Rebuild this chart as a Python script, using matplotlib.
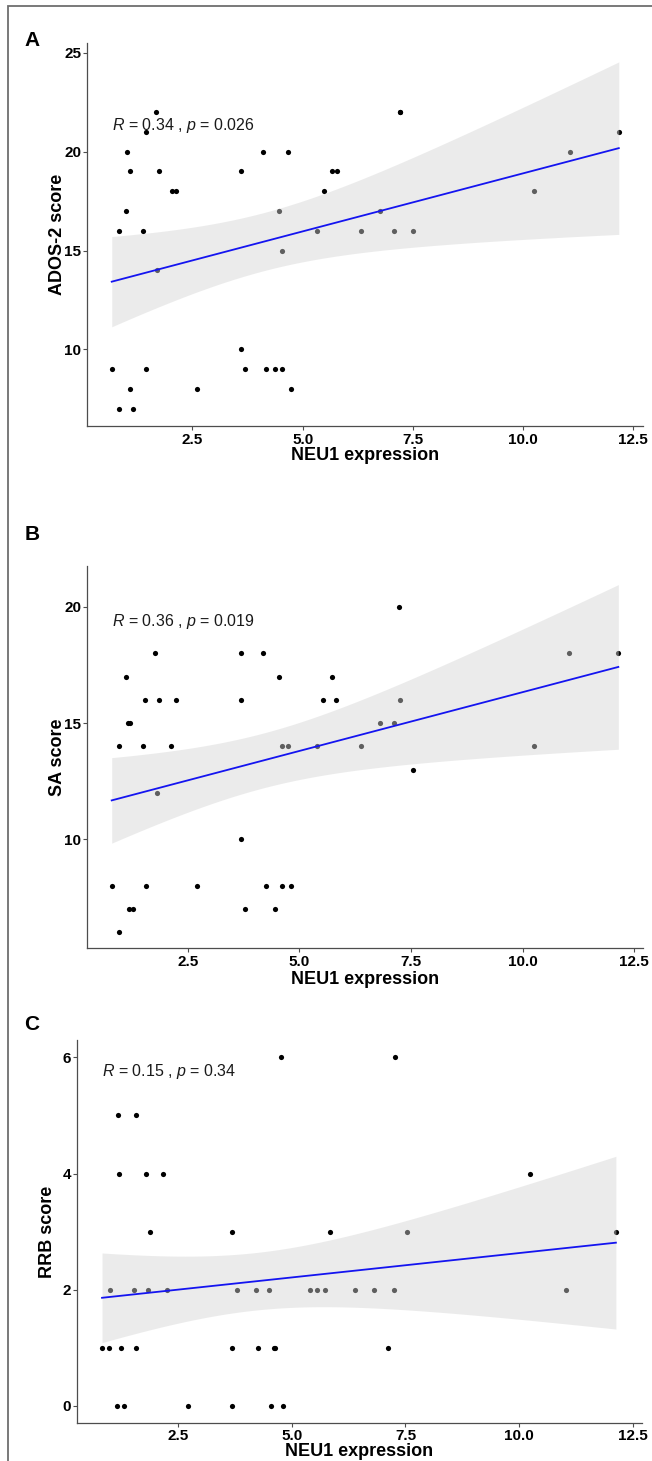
import numpy as np
import matplotlib
matplotlib.use('Agg')
import matplotlib.pyplot as plt
from matplotlib.patches import Rectangle

plt.rcParams['font.family'] = ['Liberation Sans', 'DejaVu Sans']
plt.rcParams['mathtext.fontset'] = 'custom'
plt.rcParams['mathtext.it'] = 'Liberation Sans:italic'
plt.rcParams['mathtext.rm'] = 'Liberation Sans'

W, H = 652, 1461

# panel A: ADOS-2 score vs NEU1 expression
x_ados = [0.670, 0.843, 0.843, 0.995, 1.024, 1.079, 1.093, 1.154, 1.381, 1.449,
          1.449, 1.669, 1.699, 1.751, 2.032, 2.137, 2.607, 3.599, 3.599, 3.690,
          4.105, 4.173, 4.384, 4.461, 4.530, 4.543, 4.673, 4.734, 5.324, 5.474,
          5.665, 5.769, 6.330, 6.754, 7.079, 7.199, 7.199, 7.503, 10.257, 11.058,
          12.171]
y_ados = [9, 16, 7, 17, 20, 19, 8, 7, 16, 9,
          21, 22, 14, 19, 18, 18, 8, 19, 10, 9,
          20, 9, 9, 17, 15, 9, 20, 8, 16, 18,
          19, 19, 16, 17, 16, 22, 22, 16, 18, 20,
          21]

# panel B: SA score
x_sa = [0.797, 0.967, 0.967, 1.117, 1.155, 1.207, 1.191, 1.274, 1.498, 1.550,
        1.565, 1.767, 1.812, 1.863, 2.132, 2.244, 2.707, 3.686, 3.686, 3.686,
        3.775, 4.185, 4.252, 4.460, 4.536, 4.604, 4.617, 4.745, 4.805, 5.387,
        5.535, 5.723, 5.826, 6.379, 6.798, 7.118, 7.223, 7.253, 7.537, 10.253,
        11.043, 12.141]
y_sa = [8, 14, 6, 17, 15, 15, 7, 7, 14, 16,
        8, 18, 12, 16, 14, 16, 8, 18, 16, 10,
        7, 18, 8, 7, 17, 14, 8, 14, 8, 14,
        16, 17, 16, 14, 15, 15, 20, 16, 13, 14,
        18, 18]

# panel C: RRB score
x_rrb = [0.821, 0.981, 0.997, 1.144, 1.166, 1.202, 1.232, 1.305, 1.518, 1.563,
         1.569, 1.789, 1.840, 1.877, 2.157, 2.245, 2.713, 3.688, 3.688, 3.688,
         3.785, 4.203, 4.261, 4.489, 4.540, 4.600, 4.628, 4.760, 4.811, 5.398,
         5.546, 5.728, 5.832, 6.389, 6.800, 7.108, 7.240, 7.269, 7.526, 10.240,
         11.032, 12.132]
y_rrb = [1, 1, 2, 0, 5, 4, 1, 0, 2, 5,
         1, 4, 2, 3, 4, 2, 0, 3, 1, 0,
         2, 2, 1, 2, 0, 1, 1, 6, 0, 2,
         2, 2, 3, 2, 2, 1, 2, 6, 3, 4,
         2, 3]

r_text = ['0.34', '0.36', '0.15']
p_text = ['0.026', '0.019', '0.34']
y_labels = ['ADOS-2 score', 'SA score', 'RRB score']
panel_tags = ['A', 'B', 'C']
x_ticks = [2.5, 5.0, 7.5, 10.0, 12.5]
x_tick_labels = ['2.5', '5.0', '7.5', '10.0', '12.5']
y_ticks = [[10, 15, 20, 25], [10, 15, 20], [0, 2, 4, 6]]

T_CRIT = 2.021  # t(0.975, df=40)


def fit_band(x, y):
    x = np.asarray(x, float)
    y = np.asarray(y, float)
    n = len(x)
    b, a = np.polyfit(x, y, 1)
    grid = np.linspace(x.min(), x.max(), 100)
    pred = a + b * grid
    res = y - (a + b * x)
    s = np.sqrt(np.sum(res ** 2) / (n - 2))
    se = s * np.sqrt(1 / n + (grid - x.mean()) ** 2 / np.sum((x - x.mean()) ** 2))
    return grid, pred, pred - T_CRIT * se, pred + T_CRIT * se


fig = plt.figure(figsize=(W / 100, H / 100), dpi=100)
fig.patch.set_facecolor('white')
fig.add_artist(Rectangle((8 / W, -0.01), 1.0, 1 - 6 / H + 0.01,
                         transform=fig.transFigure, fill=False,
                         edgecolor='#6e6e6e', lw=1.3))

# pixel boxes: left, top, right, bottom
boxes = [(87.3, 43, 643, 426), (87.3, 566, 643.3, 948.3), (77.3, 1040, 641.7, 1423.3)]
xlims = [(0.116, 12.72), (0.251, 12.70), (0.277, 12.70)]
ylims = [(6.13, 25.49), (5.32, 21.75), (-0.3, 6.3)]
label_y = [21.3, 19.36, 5.75]
ylab_x = [57, 57, 47]
tag_y = [40, 535, 1025]
xlab_y = [456, 980, 1452]
xpad = [2, 2, 0.8]

data = [(x_ados, y_ados), (x_sa, y_sa), (x_rrb, y_rrb)]

for i, (xs, ys) in enumerate(data):
    l, t, r, b = boxes[i]
    ax = fig.add_axes([l / W, 1 - b / H, (r - l) / W, (b - t) / H])
    ax.scatter(xs, ys, s=14, color='black', linewidths=0, zorder=2)
    g, pred, lo, hi = fit_band(xs, ys)
    ax.fill_between(g, lo, hi, color='#d4d4d4', alpha=0.45, linewidth=0, zorder=3)
    ax.plot(g, pred, color='#1414f0', lw=1.3, zorder=4)

    ax.set_xlim(*xlims[i])
    ax.set_ylim(*ylims[i])
    ax.set_xticks(x_ticks)
    ax.set_xticklabels(x_tick_labels)
    ax.set_yticks(y_ticks[i])
    for sp in ['top', 'right']:
        ax.spines[sp].set_visible(False)
    for sp in ['left', 'bottom']:
        ax.spines[sp].set_color('#4d4d4d')
        ax.spines[sp].set_linewidth(0.9)
    ax.tick_params(length=3, width=0.8, color='#4d4d4d', labelsize=11)
    ax.tick_params(axis='y', pad=1.5)
    ax.tick_params(axis='x', pad=xpad[i])
    for lab in ax.get_xticklabels() + ax.get_yticklabels():
        lab.set_fontweight('bold')
    ax.patch.set_alpha(0)

    ax.text(min(xs), label_y[i],
            r'$R$ = ' + r_text[i] + r' , $p$ = ' + p_text[i],
            ha='left', va='center', fontsize=11.5, color='#1a1a1a')

    fig.text((l + r) / 2 / W, 1 - xlab_y[i] / H, 'NEU1 expression',
             ha='center', va='center', fontsize=13, fontweight='bold')
    fig.text(ylab_x[i] / W, 1 - (t + b) / 2 / H, y_labels[i], rotation=90,
             ha='center', va='center', fontsize=13, fontweight='bold')
    fig.text(32 / W, 1 - tag_y[i] / H, panel_tags[i],
             ha='center', va='center', fontsize=15, fontweight='bold')

fig.savefig('out.png', dpi=100)
